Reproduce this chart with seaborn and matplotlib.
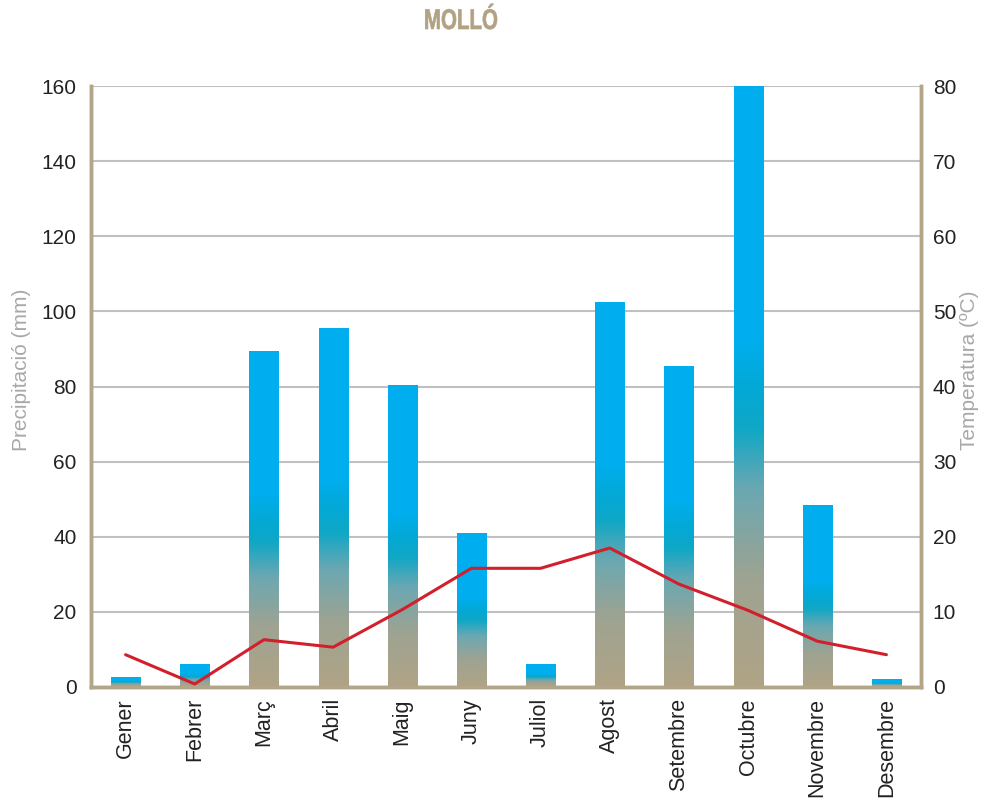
import numpy as np
import pandas as pd
import matplotlib
matplotlib.use("Agg")
import matplotlib.pyplot as plt
from matplotlib.colors import LinearSegmentedColormap
from matplotlib.patheffects import AbstractPathEffect
from matplotlib.transforms import Affine2D
import seaborn as sns

months = ["Gener", "Febrer", "Març", "Abril", "Maig", "Juny", "Juliol",
          "Agost", "Setembre", "Octubre", "Novembre", "Desembre"]
precip = [2.7, 6, 89.5, 95.5, 80.5, 41, 6, 102.5, 85.5, 160, 48.5, 2]
temp = [4.3, 0.4, 6.3, 5.3, 10.3, 15.8, 15.8, 18.5, 13.7, 10.2, 6.1, 4.3]
left_ticks = [0, 20, 40, 60, 80, 100, 120, 140, 160]
right_ticks = [0, 10, 20, 30, 40, 50, 60, 70, 80]

df = pd.DataFrame({"mes": months, "precip": precip, "temp": temp})

sns.set_theme(style="white")
plt.rcParams['font.family'] = ['Liberation Sans', 'DejaVu Sans']

TAN = "#B3A688"
GRID = "#C0C0C0"
TITLE_COLOR = "#B0A282"


class SqueezeBold(AbstractPathEffect):
    def __init__(self, sx, cx, lw, color):
        super().__init__()
        self.sx = sx
        self.cx = cx
        self.lw = lw
        self.color = color

    def draw_path(self, renderer, gc, tpath, affine, rgbFace=None):
        aff = affine + Affine2D().translate(-self.cx, 0).scale(self.sx, 1).translate(self.cx, 0)
        gc0 = renderer.new_gc()
        gc0.copy_properties(gc)
        gc0.set_linewidth(self.lw)
        gc0.set_foreground(self.color)
        gc0.set_joinstyle("round")
        renderer.draw_path(gc0, tpath, aff, rgbFace)
        gc0.restore()


fig = plt.figure(figsize=(9.84, 7.99), dpi=100)
ax = fig.add_axes([91/984, 1-687/799, (921-91)/984, (687-86)/799])

sns.barplot(data=df, x="mes", y="precip", ax=ax, width=0.42, color="#00AEEF",
            saturation=1, zorder=2)
ax.set_xlim(-0.5, 11.5)
ax.set_ylim(0, 160)

grad_cmap = LinearSegmentedColormap.from_list(
    "g", [(0.0, "#B0A486"), (0.18, "#9EA392"), (0.33, "#6AA8B2"),
          (0.43, "#0FA7C6"), (0.50, "#03A9D6"), (0.58, "#00AEEF"), (1.0, "#00AEEF")])
grad = np.linspace(0, 1, 512).reshape(-1, 1)
for p in ax.patches:
    x0, y0 = p.get_x(), p.get_y()
    w, h = p.get_width(), p.get_height()
    if h <= 0:
        continue
    im = ax.imshow(grad, cmap=grad_cmap, origin="lower", aspect="auto",
                   extent=[x0, x0 + w, y0, y0 + h], zorder=2, interpolation="bilinear")
    im.set_clip_path(p)
    p.set_facecolor("none")
    p.set_edgecolor("none")
ax.set_xlim(-0.5, 11.5)
ax.set_ylim(0, 160)

ax.set_yticks(left_ticks)
ax.yaxis.grid(True, color=GRID, linewidth=1.5, zorder=0)
ax.xaxis.grid(False)
ax.set_axisbelow(True)
ax.tick_params(axis="y", length=0, pad=10.5, labelsize=15, labelcolor="#222222")
ax.tick_params(axis="x", length=0, pad=8, labelsize=15.5, labelcolor="#222222")
ax.set_xticks(range(len(months)))
ax.set_xticklabels(months, rotation=90, va="top")
ax.set_xlabel("")
ax.set_ylabel("Precipitació (mm)", fontsize=15, color="#A8A8A8")
ax.yaxis.set_label_coords((31 - 91) / 830, 0.527)

for s in ["left", "right", "bottom"]:
    ax.spines[s].set_color(TAN)
    ax.spines[s].set_linewidth(2.5)
ax.spines["top"].set_visible(False)

ax2 = ax.twinx()
sns.lineplot(x=np.arange(len(months)), y=temp, ax=ax2, color="#D21F2B",
             linewidth=2.2, zorder=3)
ax2.set_ylim(0, 80)
ax2.set_yticks(right_ticks)
ax2.tick_params(axis="y", length=0, pad=8.5, labelsize=15, labelcolor="#222222")
ax2.set_ylabel("Temperatura (ºC)", fontsize=15, color="#A8A8A8", rotation=90)
ax2.yaxis.set_label_coords((960 - 91) / 830, 0.527)
ax2.grid(False)
for s in ["left", "right", "bottom"]:
    ax2.spines[s].set_color(TAN)
    ax2.spines[s].set_linewidth(2.5)
ax2.spines["top"].set_visible(False)

fig.text(461/984, 1-22/799, "MOLLÓ", ha="center", va="center", fontsize=20.5,
         fontweight="bold", color=TITLE_COLOR,
         path_effects=[SqueezeBold(0.72, 461, 0.45, TITLE_COLOR)])

fig.savefig("out.png", dpi=100)
